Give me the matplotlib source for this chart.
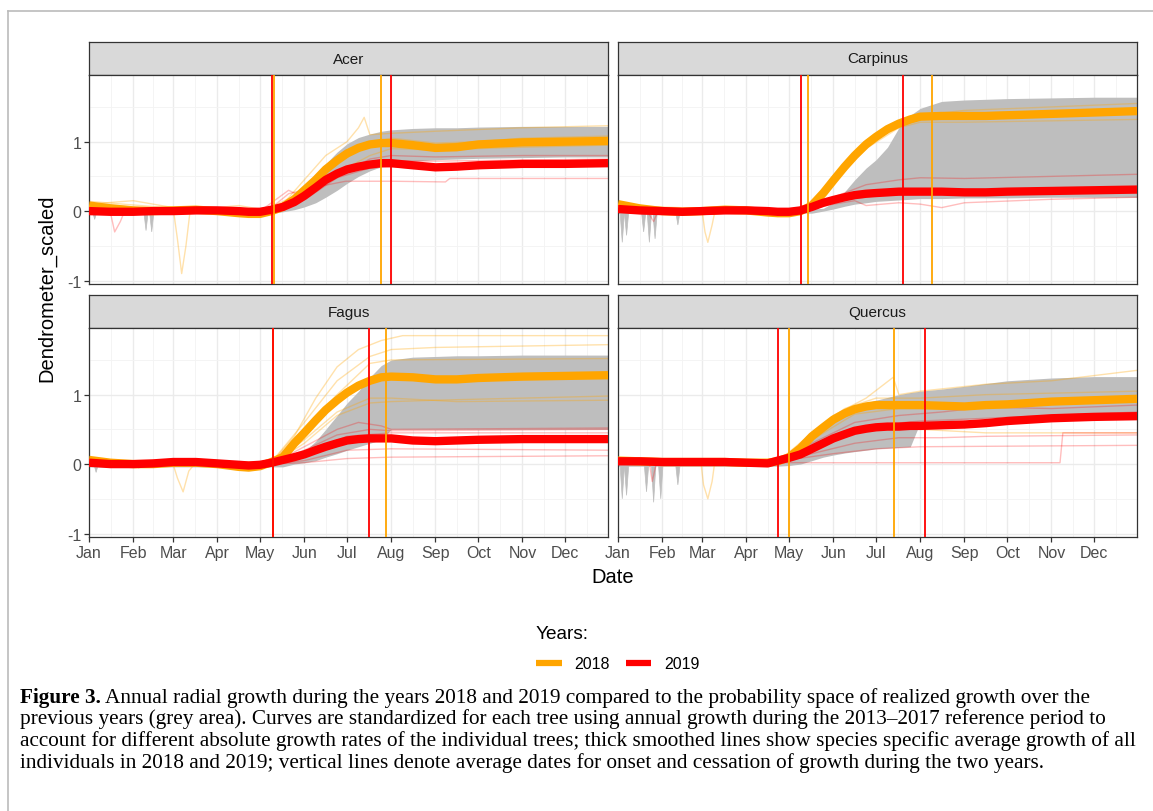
import matplotlib
matplotlib.use('Agg')
import matplotlib.pyplot as plt
from matplotlib.lines import Line2D

W, H, DPI = 1153, 812, 100

NARANJA = '#FFA500'
ROJO = '#FF0000'
GRIS = '#BEBEBE'

plt.rcParams['font.family'] = ['Liberation Sans', 'DejaVu Sans']
plt.rcParams['axes.unicode_minus'] = False

# --- datos -----------------------------------------------------------------
MESES = ['Jan', 'Feb', 'Mar', 'Apr', 'May', 'Jun', 'Jul', 'Aug', 'Sep', 'Oct', 'Nov', 'Dec']
INICIO_MES = [0, 31, 59, 90, 120, 151, 181, 212, 243, 273, 304, 334]
MITAD_MES = [15.5, 45, 74.5, 105, 135.5, 166, 196.5, 227.5, 258, 288.5, 319, 349.5]
Y_TICKS = [-1, 0, 1]
Y_MINOR = [-0.5, 0.5, 1.5]

# dia del año donde se leyeron las curvas medias y la banda gris
DIAS = [0, 15, 31, 45, 59, 75, 90, 105, 112, 120, 128, 136, 144, 151, 159, 166, 174,
        181, 189, 197, 205, 212, 227, 243, 258, 273, 304, 334, 364]

acer_2018 = [0.08, 0.04, 0.01, 0.0, 0.01, 0.02, 0.0, -0.03, -0.04, -0.04, 0.0, 0.06, 0.17, 0.3,
             0.45, 0.6, 0.73, 0.83, 0.91, 0.96, 0.98, 0.98, 0.95, 0.91, 0.92, 0.96, 0.99, 1.0, 1.01]
acer_2019 = [0.0, -0.01, -0.01, 0.0, 0.0, 0.01, 0.01, 0.0, -0.01, -0.01, 0.02, 0.06, 0.13, 0.22,
             0.34, 0.45, 0.54, 0.6, 0.64, 0.67, 0.69, 0.69, 0.66, 0.63, 0.64, 0.66, 0.68, 0.68, 0.69]
acer_gris_max = [0.06, 0.03, 0.03, 0.02, 0.03, 0.03, 0.02, 0.01, 0.01, 0.02, 0.04, 0.08, 0.18, 0.32,
                 0.5, 0.68, 0.85, 0.97, 1.06, 1.11, 1.15, 1.17, 1.19, 1.2, 1.2, 1.21, 1.22, 1.22, 1.22]
acer_gris_min = [-0.04, -0.03, -0.03, -0.03, -0.03, -0.03, -0.03, -0.04, -0.04, -0.04, -0.03, -0.01,
                 0.02, 0.06, 0.12, 0.2, 0.3, 0.4, 0.5, 0.58, 0.64, 0.68, 0.72, 0.74, 0.75, 0.76,
                 0.77, 0.78, 0.78]

carpinus_2018 = [0.1, 0.04, 0.0, -0.01, 0.0, 0.02, 0.01, -0.02, -0.03, -0.03, 0.0, 0.08, 0.26, 0.44,
                 0.64, 0.8, 0.96, 1.07, 1.18, 1.26, 1.32, 1.36, 1.37, 1.37, 1.37, 1.38, 1.4, 1.42, 1.44]
carpinus_2019 = [0.03, 0.01, 0.0, -0.01, 0.0, 0.01, 0.01, 0.0, -0.01, -0.01, 0.01, 0.06, 0.12, 0.16,
                 0.2, 0.23, 0.25, 0.26, 0.27, 0.28, 0.28, 0.28, 0.28, 0.27, 0.27, 0.28, 0.29, 0.3, 0.31]
carpinus_gris_max = [0.05, 0.03, 0.02, 0.02, 0.02, 0.03, 0.03, 0.02, 0.02, 0.02, 0.02, 0.03, 0.04,
                     0.12, 0.28, 0.45, 0.62, 0.74, 0.92, 1.2, 1.38, 1.48, 1.58, 1.6, 1.61, 1.62,
                     1.63, 1.64, 1.64]
carpinus_gris_min = [-0.03, -0.03, -0.03, -0.03, -0.03, -0.03, -0.03, -0.03, -0.03, -0.03, -0.03,
                     -0.03, 0.0, 0.03, 0.07, 0.1, 0.12, 0.14, 0.15, 0.16, 0.17, 0.18, 0.18, 0.19,
                     0.19, 0.19, 0.2, 0.2, 0.2]

fagus_2018 = [0.06, 0.02, 0.0, 0.0, 0.02, 0.02, 0.0, -0.04, -0.05, -0.03, 0.03, 0.1, 0.3, 0.45,
              0.63, 0.78, 0.92, 1.03, 1.13, 1.2, 1.25, 1.26, 1.25, 1.22, 1.22, 1.24, 1.26, 1.27, 1.28]
fagus_2019 = [0.02, 0.0, 0.0, 0.01, 0.03, 0.03, 0.01, -0.01, -0.02, -0.01, 0.02, 0.06, 0.1, 0.14,
              0.2, 0.25, 0.3, 0.34, 0.36, 0.37, 0.37, 0.37, 0.34, 0.33, 0.34, 0.35, 0.36, 0.36, 0.36]
fagus_gris_max = [0.05, 0.03, 0.02, 0.02, 0.03, 0.03, 0.02, 0.01, 0.01, 0.01, 0.02, 0.04, 0.1, 0.18,
                  0.33, 0.5, 0.7, 0.88, 1.05, 1.25, 1.42, 1.5, 1.54, 1.55, 1.56, 1.56, 1.57, 1.57, 1.57]
fagus_gris_min = [-0.04, -0.04, -0.04, -0.04, -0.04, -0.04, -0.04, -0.05, -0.05, -0.05, -0.04, -0.04,
                  0.0, 0.02, 0.05, 0.1, 0.15, 0.2, 0.25, 0.3, 0.35, 0.5, 0.5, 0.5, 0.5, 0.5, 0.5,
                  0.5, 0.5]

quercus_2018 = [0.05, 0.04, 0.03, 0.03, 0.03, 0.03, 0.02, 0.02, 0.04, 0.1, 0.23, 0.4, 0.53, 0.64,
                0.73, 0.79, 0.83, 0.85, 0.85, 0.85, 0.85, 0.85, 0.84, 0.83, 0.85, 0.86, 0.9, 0.92, 0.94]
quercus_2019 = [0.04, 0.04, 0.03, 0.03, 0.03, 0.03, 0.02, 0.01, 0.05, 0.09, 0.14, 0.22, 0.3, 0.37,
                0.43, 0.48, 0.51, 0.53, 0.54, 0.54, 0.55, 0.55, 0.56, 0.57, 0.59, 0.62, 0.66, 0.68, 0.69]
quercus_gris_max = [0.06, 0.05, 0.05, 0.05, 0.05, 0.05, 0.04, 0.03, 0.06, 0.12, 0.22, 0.4, 0.55, 0.66,
                    0.76, 0.83, 0.88, 0.92, 0.96, 1.0, 1.03, 1.05, 1.08, 1.12, 1.16, 1.2, 1.24, 1.26, 1.26]
quercus_gris_min = [-0.03, -0.03, -0.03, -0.03, -0.03, -0.03, -0.03, -0.03, -0.03, -0.02, 0.0, 0.05,
                    0.1, 0.13, 0.16, 0.18, 0.2, 0.22, 0.23, 0.24, 0.25, 0.6, 0.62, 0.64, 0.66, 0.68,
                    0.7, 0.71, 0.72]

# picos negativos de la banda gris (dia, valor)
acer_picos = [(4, -0.12), (40, -0.28), (44, -0.3)]
carpinus_picos = [(3, -0.45), (6, -0.35), (18, -0.3), (22, -0.45), (26, -0.4), (42, -0.2)]
fagus_picos = [(5, -0.12), (35, -0.06)]
quercus_picos = [(3, -0.5), (6, -0.45), (20, -0.4), (25, -0.55), (30, -0.5), (42, -0.3)]

# arboles individuales (dia, valor)
acer_arboles_2018 = [
    [(0, 0.12), (20, 0.08), (45, 0.03), (90, 0.02), (120, -0.03), (136, 0.1), (151, 0.45), (166, 0.8),
     (181, 1.0), (189, 1.2), (193, 1.35), (197, 1.1), (212, 1.12), (243, 1.15), (304, 1.2), (364, 1.23)],
    [(0, 0.1), (31, 0.15), (45, 0.1), (59, 0.05), (62, -0.4), (65, -0.9), (68, -0.5), (71, 0.02),
     (90, 0.05), (105, 0.08), (128, 0.0), (151, 0.25), (174, 0.7), (197, 0.95), (212, 1.02),
     (243, 0.95), (304, 1.05), (364, 1.08)],
    [(0, 0.05), (90, 0.0), (128, 0.02), (151, 0.2), (174, 0.55), (197, 0.8), (212, 0.9), (243, 0.88),
     (304, 0.92), (364, 0.95)],
    [(0, 0.14), (60, 0.04), (120, -0.02), (144, 0.22), (166, 0.65), (189, 0.95), (212, 1.05),
     (243, 0.98), (304, 1.02), (364, 1.04)],
]
acer_arboles_2019 = [
    [(0, 0.0), (15, -0.02), (18, -0.3), (22, -0.15), (25, 0.0), (120, 0.0), (128, 0.05), (140, 0.25),
     (150, 0.3), (160, 0.35), (180, 0.43), (212, 0.43), (250, 0.42), (253, 0.47), (364, 0.47)],
    [(0, 0.0), (120, 0.0), (130, 0.15), (140, 0.3), (145, 0.25), (155, 0.3), (174, 0.5), (197, 0.75),
     (212, 0.8), (243, 0.78), (304, 0.8), (364, 0.8)],
    [(0, -0.02), (128, 0.0), (151, 0.2), (181, 0.6), (212, 0.72), (243, 0.72), (364, 0.75)],
    [(0, 0.02), (128, 0.01), (151, 0.16), (174, 0.48), (197, 0.62), (212, 0.64), (243, 0.6),
     (364, 0.66)],
]
carpinus_arboles_2018 = [
    [(0, 0.12), (30, 0.02), (59, 0.0), (61, -0.3), (63, -0.45), (66, -0.2), (68, 0.0), (120, -0.02),
     (136, 0.1), (159, 0.65), (181, 1.1), (212, 1.38), (243, 1.45), (304, 1.5), (364, 1.55)],
    [(0, 0.05), (128, 0.0), (151, 0.4), (174, 0.9), (197, 1.2), (212, 1.28), (243, 1.28), (364, 1.32)],
    [(0, 0.08), (128, -0.01), (151, 0.48), (174, 1.02), (197, 1.3), (212, 1.4), (243, 1.41),
     (364, 1.47)],
]
carpinus_arboles_2019 = [
    [(0, 0.0), (22, -0.05), (25, -0.15), (28, 0.0), (128, 0.0), (151, 0.2), (174, 0.38), (197, 0.45),
     (212, 0.48), (243, 0.47), (304, 0.5), (364, 0.53)],
    [(0, 0.0), (128, 0.0), (151, 0.1), (166, 0.15), (174, 0.08), (197, 0.12), (212, 0.1), (227, 0.05),
     (243, 0.12), (304, 0.17), (364, 0.2)],
    [(0, 0.02), (128, 0.0), (151, 0.14), (181, 0.22), (212, 0.24), (304, 0.26), (364, 0.28)],
]
fagus_arboles_2018 = [
    [(0, 0.05), (128, 0.02), (144, 0.4), (159, 0.95), (174, 1.4), (189, 1.65), (205, 1.78), (220, 1.85),
     (364, 1.85)],
    [(0, 0.05), (128, 0.03), (151, 0.6), (174, 1.2), (197, 1.55), (212, 1.65), (243, 1.68), (364, 1.72)],
    [(0, 0.08), (59, 0.0), (62, -0.2), (66, -0.4), (70, -0.1), (74, 0.0), (128, 0.0), (151, 0.3),
     (174, 0.7), (197, 0.88), (212, 0.9), (243, 0.92), (364, 0.98)],
    [(0, 0.04), (128, 0.02), (151, 0.5), (174, 1.0), (197, 1.45), (212, 1.5), (364, 1.52)],
    [(0, 0.03), (128, 0.0), (151, 0.35), (174, 0.75), (197, 0.95), (212, 0.95), (258, 0.9),
     (364, 0.92)],
]
fagus_arboles_2019 = [
    [(0, 0.0), (128, 0.0), (151, 0.25), (174, 0.5), (189, 0.6), (205, 0.55), (212, 0.5), (364, 0.52)],
    [(0, 0.0), (128, 0.0), (151, 0.15), (181, 0.4), (212, 0.45), (364, 0.45)],
    [(0, 0.0), (128, 0.0), (151, 0.05), (181, 0.2), (212, 0.22), (364, 0.2)],
    [(0, 0.0), (128, 0.0), (151, 0.02), (181, 0.08), (212, 0.1), (364, 0.12)],
    [(0, 0.02), (128, 0.01), (151, 0.2), (174, 0.42), (197, 0.5), (212, 0.48), (364, 0.5)],
]
quercus_arboles_2018 = [
    [(0, 0.06), (58, 0.05), (60, -0.3), (63, -0.5), (66, -0.25), (68, 0.05), (105, 0.05), (120, 0.1),
     (151, 0.7), (174, 0.95), (193, 1.25), (197, 1.0), (212, 1.05), (258, 1.15), (304, 1.2), (364, 1.35)],
    [(0, 0.05), (112, 0.03), (136, 0.45), (159, 0.8), (181, 0.95), (212, 0.95), (258, 1.0), (364, 1.05)],
    [(0, 0.04), (120, 0.04), (151, 0.4), (181, 0.55), (212, 0.5), (258, 0.45), (364, 0.45)],
    [(0, 0.05), (112, 0.04), (136, 0.35), (166, 0.72), (197, 0.8), (243, 0.8), (304, 0.86),
     (364, 0.9)],
]
quercus_arboles_2019 = [
    [(0, 0.04), (22, 0.02), (24, -0.25), (27, 0.02), (112, 0.05), (136, 0.3), (166, 0.6), (197, 0.7),
     (227, 0.75), (258, 0.82), (304, 0.8), (364, 0.85)],
    [(0, 0.03), (112, 0.03), (136, 0.15), (166, 0.3), (197, 0.38), (227, 0.38), (258, 0.4), (364, 0.42)],
    [(0, 0.03), (140, 0.02), (310, 0.02), (312, 0.45), (364, 0.45)],
    [(0, 0.03), (112, 0.04), (151, 0.15), (181, 0.22), (212, 0.25), (364, 0.27)],
    [(0, 0.04), (112, 0.05), (144, 0.35), (174, 0.55), (212, 0.62), (258, 0.66), (364, 0.75)],
]

# fechas medias de inicio y fin de crecimiento (dia del año)
acer_vlineas_2018 = [130, 204.5]
acer_vlineas_2019 = [128.6, 211.5]
carpinus_vlineas_2018 = [133.5, 220]
carpinus_vlineas_2019 = [128.6, 200]
fagus_vlineas_2018 = [129, 208.6]
fagus_vlineas_2019 = [129, 196.7]
quercus_vlineas_2018 = [120, 193.7]
quercus_vlineas_2019 = [112.5, 215.5]

CAPTION = [
    'Annual radial growth during the years 2018 and 2019 compared to the probability space of realized growth over the',
    'previous years (grey area). Curves are standardized for each tree using annual growth during the 2013\u20132017 reference period to',
    'account for different absolute growth rates of the individual trees; thick smoothed lines show species specific average growth of all',
    'individuals in 2018 and 2019; vertical lines denote average dates for onset and cessation of growth during the two years.',
]


def ejes_px(fig, x0, y0, x1, y1):
    return fig.add_axes([x0 / W, 1 - y1 / H, (x1 - x0) / W, (y1 - y0) / H])


def tira(fig, x0, y0, x1, y1, nombre):
    ax = ejes_px(fig, x0, y0, x1, y1)
    ax.set_facecolor('#D9D9D9')
    ax.set_xticks([])
    ax.set_yticks([])
    for s in ax.spines.values():
        s.set_color('#333333')
        s.set_linewidth(0.9)
    ax.text(0.5, 0.5, nombre, ha='center', va='center', fontsize=11, color='#1A1A1A',
            transform=ax.transAxes)


def panel(ax, media18, media19, gmin, gmax, picos, arb18, arb19, vl18, vl19, abajo, izquierda):
    ax.fill_between(DIAS, gmin, gmax, color=GRIS, lw=0, zorder=1)
    for d, v in picos:
        ax.fill([d - 1.6, d, d + 1.6], [0, v, 0], color=GRIS, lw=0.5, zorder=1)
    for arbol in arb18:
        xs, ys = zip(*arbol)
        ax.plot(xs, ys, color=NARANJA, alpha=0.33, lw=1.0, zorder=2)
    for arbol in arb19:
        xs, ys = zip(*arbol)
        ax.plot(xs, ys, color=ROJO, alpha=0.26, lw=1.0, zorder=2)
    ax.plot(DIAS, media18, color=NARANJA, lw=6, solid_capstyle='butt', zorder=3)
    ax.plot(DIAS, media19, color=ROJO, lw=6, solid_capstyle='butt', zorder=4)
    for d in vl18:
        ax.axvline(d, color=NARANJA, lw=1.3, zorder=5)
    for d in vl19:
        ax.axvline(d, color=ROJO, lw=1.3, zorder=5)

    ax.set_xlim(0, 364)
    ax.set_ylim(-1.05, 1.96)
    ax.set_xticks(INICIO_MES)
    ax.set_xticklabels(MESES)
    ax.set_xticks(MITAD_MES, minor=True)
    ax.set_yticks(Y_TICKS)
    ax.set_yticklabels([str(v) for v in Y_TICKS])
    ax.set_yticks(Y_MINOR, minor=True)
    ax.grid(which='major', color='#EBEBEB', lw=1.0)
    ax.grid(which='minor', color='#F3F3F3', lw=0.6)
    ax.set_axisbelow(True)
    ax.tick_params(which='major', length=3.5, width=0.9, color='#333333', labelcolor='#4D4D4D',
                   labelsize=11.5, pad=2)
    ax.tick_params(which='minor', length=0)
    ax.tick_params(bottom=abajo, labelbottom=abajo, left=izquierda, labelleft=izquierda)
    for s in ax.spines.values():
        s.set_color('#333333')
        s.set_linewidth(0.9)


fig = plt.figure(figsize=(W / DPI, H / DPI), dpi=DPI)
fig.patch.set_facecolor('white')

# marco gris de la figura
fig.add_artist(Line2D([8 / W, 8 / W], [0, 1 - 12 / H], color='#BBBBBB', lw=1.2,
                      transform=fig.transFigure))
fig.add_artist(Line2D([8 / W, 1], [1 - 12 / H, 1 - 12 / H], color='#BBBBBB', lw=1.2,
                      transform=fig.transFigure))

XI, XD = (89, 608), (618, 1137)
FILA1 = (43, 76, 285)
FILA2 = (296, 329, 538)

paneles = [
    ('Acer', XI, FILA1, acer_2018, acer_2019, acer_gris_min, acer_gris_max, acer_picos,
     acer_arboles_2018, acer_arboles_2019, acer_vlineas_2018, acer_vlineas_2019, False, True),
    ('Carpinus', XD, FILA1, carpinus_2018, carpinus_2019, carpinus_gris_min, carpinus_gris_max,
     carpinus_picos, carpinus_arboles_2018, carpinus_arboles_2019, carpinus_vlineas_2018,
     carpinus_vlineas_2019, False, False),
    ('Fagus', XI, FILA2, fagus_2018, fagus_2019, fagus_gris_min, fagus_gris_max, fagus_picos,
     fagus_arboles_2018, fagus_arboles_2019, fagus_vlineas_2018, fagus_vlineas_2019, True, True),
    ('Quercus', XD, FILA2, quercus_2018, quercus_2019, quercus_gris_min, quercus_gris_max,
     quercus_picos, quercus_arboles_2018, quercus_arboles_2019, quercus_vlineas_2018,
     quercus_vlineas_2019, True, False),
]

for (nombre, (x0, x1), (ys, yp, yb), m18, m19, gmin, gmax, picos, a18, a19, v18, v19,
     abajo, izq) in paneles:
    tira(fig, x0, ys, x1, yp, nombre)
    ax = ejes_px(fig, x0, yp, x1, yb)
    panel(ax, m18, m19, gmin, gmax, picos, a18, a19, v18, v19, abajo, izq)

fig.text(47 / W, 1 - 288 / H, 'Dendrometer_scaled', rotation=90, ha='center', va='center',
         fontsize=14.5, color='black')
fig.text(613 / W, 1 - 578 / H, 'Date', ha='center', va='center', fontsize=14.5, color='black')

# leyenda
manejadores = [Line2D([], [], color=NARANJA, lw=4.5, solid_capstyle='butt'),
               Line2D([], [], color=ROJO, lw=4.5, solid_capstyle='butt')]
leg = fig.legend(manejadores, ['2018', '2019'], title='Years:', ncol=2, frameon=False,
                 loc='upper left', bbox_to_anchor=(528 / W, 1 - 618 / H), fontsize=11.5,
                 title_fontsize=13.7, alignment='left', borderpad=0, handlelength=1.6,
                 handletextpad=0.8, columnspacing=1.0, labelspacing=0.9)

# pie de figura
renderer = fig.canvas.get_renderer()
serif = ['Liberation Serif', 'DejaVu Serif']
prueba = fig.text(0, 0, CAPTION[2], family=serif, fontsize=14)
ancho = prueba.get_window_extent(renderer).width
prueba.remove()
tam = 14 * (1120 / ancho)

ys_pie = [698, 719, 741, 763]
negrita = fig.text(20 / W, 1 - ys_pie[0] / H, 'Figure 3.', family=serif, fontsize=tam,
                   fontweight='bold', va='center')
bb = negrita.get_window_extent(renderer)
fig.text((bb.x1 + 4) / W, 1 - ys_pie[0] / H, CAPTION[0], family=serif, fontsize=tam, va='center')
for linea, y in zip(CAPTION[1:], ys_pie[1:]):
    fig.text(20 / W, 1 - y / H, linea, family=serif, fontsize=tam, va='center')

fig.savefig('out.png', dpi=DPI)
